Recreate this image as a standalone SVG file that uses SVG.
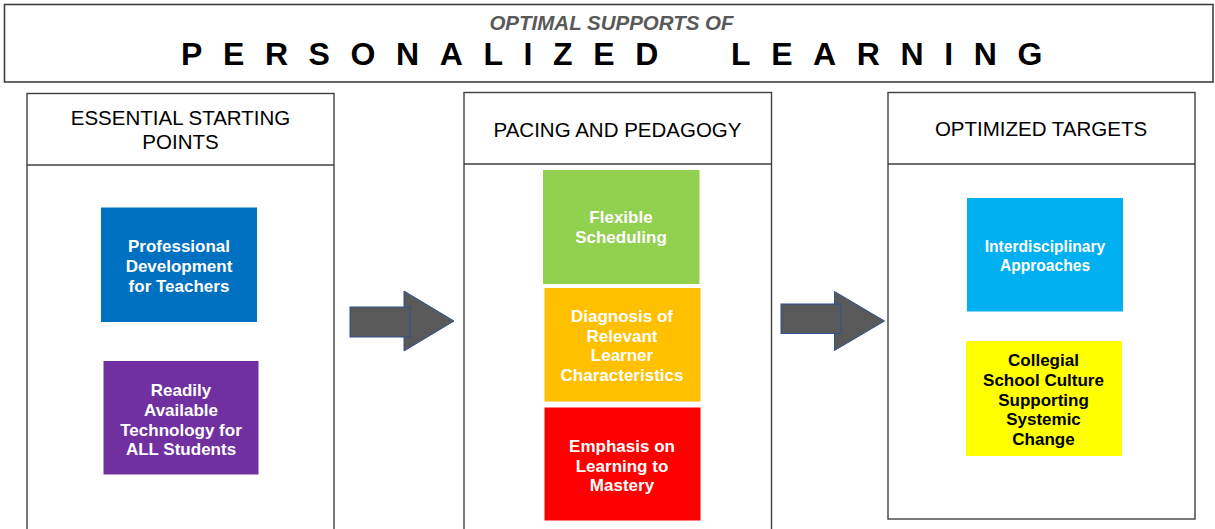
<svg xmlns="http://www.w3.org/2000/svg" width="1215" height="529" viewBox="0 0 1215 529">
<style>
.frame{fill:#fff;stroke:#404040;stroke-width:1.4}
.hdr{font-family:"Liberation Sans",Arial,sans-serif;font-size:20.5px;fill:#000;text-anchor:middle}
.lbl{font-family:"Liberation Sans",Arial,sans-serif;font-size:17px;font-weight:bold;fill:#fff;text-anchor:middle}
.dark{fill:#000}
.small{font-size:15.6px}
.arr{fill:#595959;stroke:#2F528F;stroke-width:1}
.big{font-family:"Liberation Sans",Arial,sans-serif;font-size:32px;font-weight:bold;fill:#000;letter-spacing:20.6px}
</style>
<rect width="1215" height="529" fill="#fff"/>
<g id="title">
<rect x="4.5" y="4.5" width="1208.5" height="77.5" class="frame" style="stroke-width:1.6"/>
<text x="611.5" y="30" font-family="'Liberation Sans',Arial,sans-serif" font-size="20.5" font-weight="bold" font-style="italic" fill="#595959" text-anchor="middle">OPTIMAL SUPPORTS OF</text>
<text x="181" y="65" class="big">PERSONALIZED</text>
<text x="731" y="65" class="big">LEARNING</text>
</g>
<g id="panel-essential">
<rect x="27" y="93.5" width="307" height="445" class="frame"/>
<line x1="27" y1="165" x2="334" y2="165" stroke="#404040" stroke-width="1.4"/>
<text class="hdr"><tspan x="180.5" y="125">ESSENTIAL STARTING</tspan><tspan x="180.5" y="148.5">POINTS</tspan></text>
</g>
<g id="node-professional">
<rect x="101" y="207.5" width="156" height="114.5" fill="#0070C0"/>
<text class="lbl"><tspan x="179" y="252">Professional</tspan><tspan x="179" y="272">Development</tspan><tspan x="179" y="292">for Teachers</tspan></text>
</g>
<g id="node-technology">
<rect x="103.5" y="361" width="155" height="113.5" fill="#7030A0"/>
<text class="lbl"><tspan x="181" y="396">Readily</tspan><tspan x="181" y="415.5">Available</tspan><tspan x="181" y="435.5">Technology for</tspan><tspan x="181" y="455">ALL Students</tspan></text>
</g>
<g id="panel-pacing">
<rect x="464" y="92.5" width="307.5" height="446" class="frame"/>
<line x1="464" y1="164" x2="771.5" y2="164" stroke="#404040" stroke-width="1.4"/>
<text x="617.5" y="137" class="hdr">PACING AND PEDAGOGY</text>
</g>
<g id="node-flexible">
<rect x="543" y="170" width="156.5" height="114" fill="#92D050"/>
<text class="lbl"><tspan x="621" y="223">Flexible</tspan><tspan x="621" y="243">Scheduling</tspan></text>
</g>
<g id="node-diagnosis">
<rect x="544.5" y="288" width="156" height="113.5" fill="#FFC000"/>
<text class="lbl"><tspan x="622" y="321.5">Diagnosis of</tspan><tspan x="622" y="341.5">Relevant</tspan><tspan x="622" y="361">Learner</tspan><tspan x="622" y="381">Characteristics</tspan></text>
</g>
<g id="node-mastery">
<rect x="544.5" y="407.5" width="156" height="113" fill="#FF0000"/>
<text class="lbl"><tspan x="622" y="451.5">Emphasis on</tspan><tspan x="622" y="471.5">Learning to</tspan><tspan x="622" y="491">Mastery</tspan></text>
</g>
<g id="panel-optimized">
<rect x="888" y="92.5" width="307" height="426.5" class="frame"/>
<line x1="888" y1="164" x2="1195" y2="164" stroke="#404040" stroke-width="1.4"/>
<text x="1041" y="135.5" class="hdr">OPTIMIZED TARGETS</text>
</g>
<g id="node-interdisciplinary">
<rect x="967" y="198" width="156" height="113.5" fill="#00B0F0"/>
<text class="lbl small"><tspan x="1045" y="252">Interdisciplinary</tspan><tspan x="1045" y="270.5">Approaches</tspan></text>
</g>
<g id="node-collegial">
<rect x="966" y="341" width="156" height="115" fill="#FFFF00"/>
<text class="lbl dark"><tspan x="1043.5" y="365.5">Collegial</tspan><tspan x="1043.5" y="385.5">School Culture</tspan><tspan x="1043.5" y="405.5">Supporting</tspan><tspan x="1043.5" y="425">Systemic</tspan><tspan x="1043.5" y="445">Change</tspan></text>
</g>
<g id="connectors">
<polygon points="404,291 454,321 404,351" class="arr"/>
<rect x="350" y="307" width="60" height="30" class="arr"/>
<polygon points="834.5,291.5 884.5,321 834.5,350.5" class="arr"/>
<rect x="781" y="304" width="60" height="29.5" class="arr"/>
</g>
</svg>
